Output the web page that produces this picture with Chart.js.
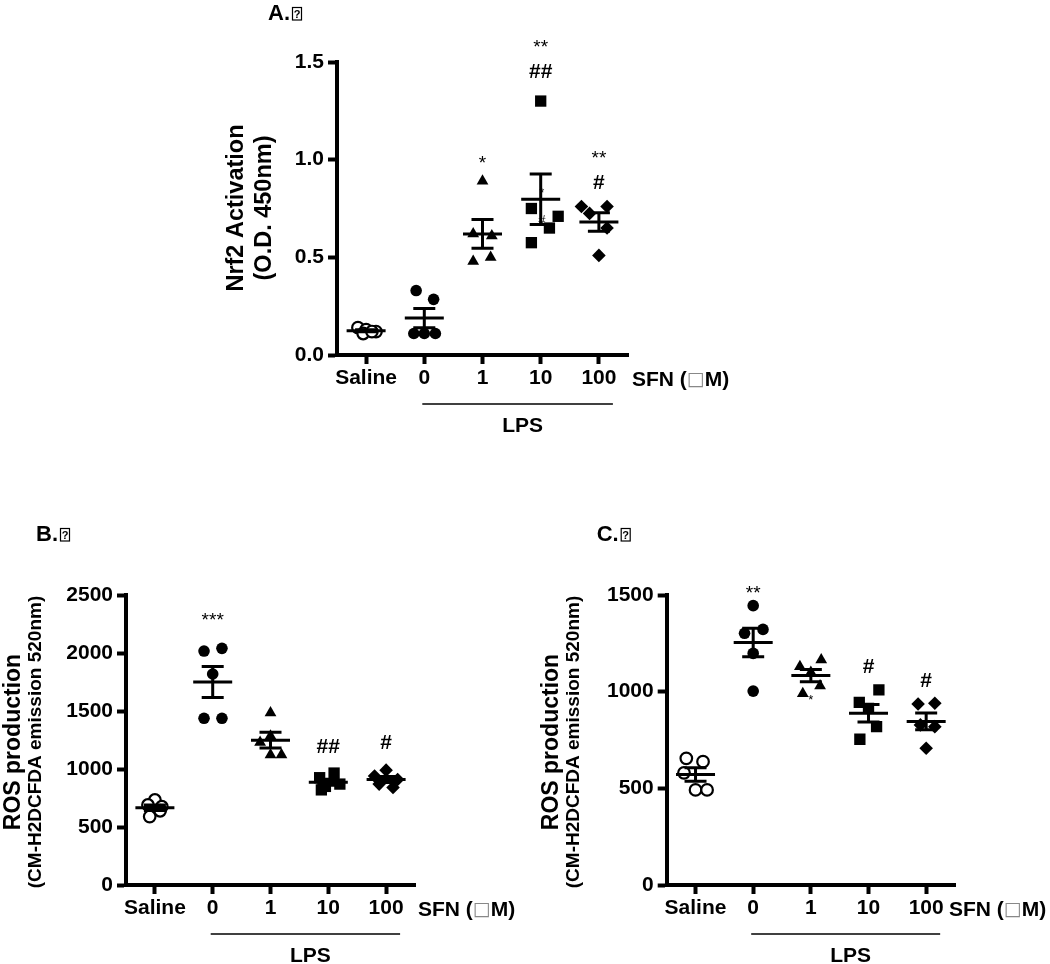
<!DOCTYPE html>
<html>
<head>
<meta charset="utf-8">
<title>Nrf2 activation and ROS production</title>
<script src="https://cdn.jsdelivr.net/npm/chart.js@4.4.1/dist/chart.umd.min.js"></script>
<style>
  body { margin: 0; background: #fff; }
  #wrap { position: relative; width: 1050px; height: 964px; overflow: hidden; }
  canvas { position: absolute; }
</style>
</head>
<body>
<div id="wrap">
  <canvas id="chartA" width="520" height="450" style="left:220px;top:0px"></canvas>
  <canvas id="chartB" width="520" height="464" style="left:0px;top:500px"></canvas>
  <canvas id="chartC" width="520" height="464" style="left:530px;top:500px"></canvas>
</div>
<script>
// x groups (SFN dose in uM, 0-100 are LPS treated)
const groups = ['Saline', '0', '1', '10', '100'];

// A. Nrf2 activation, O.D. 450nm (5 wells per group)
const nrf2Values = [
  [0.14, 0.13, 0.12, 0.11, 0.12],
  [0.33, 0.285, 0.11, 0.11, 0.11],
  [0.89, 0.62, 0.61, 0.48, 0.50],
  [1.30, 0.75, 0.71, 0.65, 0.575],
  [0.76, 0.76, 0.725, 0.65, 0.51]
];
const nrf2Jitter = [
  [-0.14, 0.0, 0.17, -0.05, 0.1],
  [-0.14, 0.16, -0.18, 0.0, 0.19],
  [0.0, -0.16, 0.16, -0.16, 0.14],
  [0.0, -0.16, 0.30, 0.15, -0.16],
  [-0.30, 0.14, -0.16, 0.14, 0.0]
];
const nrf2Ticks = [0, 0.5, 1.0, 1.5];

// B. ROS production (CM-H2DCFDA emission 520nm)
const rosBValues = [
  [733, 690, 675, 640, 590],
  [2017, 2040, 1819, 1437, 1437],
  [1485, 1230, 1285, 1122, 1122],
  [965, 925, 870, 850, 820],
  [990, 940, 910, 870, 840]
];
const rosBJitter = [
  [0.0, -0.12, 0.12, 0.09, -0.09],
  [-0.15, 0.16, 0.0, -0.15, 0.16],
  [0.0, -0.18, 0.0, 0.0, 0.19],
  [0.1, -0.15, 0.2, -0.05, -0.12],
  [0.0, -0.2, 0.2, -0.12, 0.12]
];
const rosBTicks = [0, 500, 1000, 1500, 2000, 2500];

// C. ROS production, second experiment
const rosCValues = [
  [655, 638, 580, 492, 492],
  [1445, 1302, 1322, 1198, 1003],
  [1130, 1165, 1100, 990, 1030],
  [945, 1009, 914, 819, 754],
  [936, 940, 828, 819, 707]
];
const rosCJitter = [
  [-0.16, 0.13, -0.2, 0.0, 0.2],
  [0.0, -0.15, 0.17, 0.0, 0.0],
  [-0.19, 0.18, 0.0, -0.14, 0.16],
  [-0.16, 0.18, 0.0, 0.14, -0.15],
  [-0.14, 0.15, -0.1, 0.15, 0.0]
];
const rosCTicks = [0, 500, 1000, 1500];

// significance marks: group, y (data units), text ('s' suffix = small stray mark)
const nrf2Marks = [
  [2, 1.0, '*'], [3, 1.595, '**'], [3, 1.447, '##'], [4, 1.028, '**'], [4, 0.879, '#'],
  [3.02, 0.844, '*s'], [3.02, 0.69, '#s']
];
const rosBMarks = [[1, 2313, '***'], [3, 1192, '##'], [4, 1221, '#']];
const rosCMarks = [[1, 1526, '**'], [3, 1129, '#'], [4, 1052, '#'], [2.0, 972, '*s']];

const FONT = "'Liberation Sans', Arial, sans-serif";
Chart.defaults.font.family = FONT;
Chart.defaults.font.size = 21;
Chart.defaults.font.weight = 'bold';
Chart.defaults.color = '#000';

const markerStyle = ['circle', 'circle', 'triangle', 'rect', 'rectRot'];
const markerRadius = [5.8, 5.8, 6.8, 8, 6.8];

const panelInfo = {
  chartA: {
    label: 'A.', labelAt: [48, 20],
    titles: ['Nrf2 Activation', '(O.D. 450nm)'], titleFonts: [23.5, 23.5], titleX: [16.7, 45], titleY: 208,
    sfnX: 412, values: nrf2Values, marks: nrf2Marks
  },
  chartB: {
    label: 'B.', labelAt: [36, 41],
    titles: ['ROS production', '(CM-H2DCFDA emission 520nm)'], titleFonts: [23, 19], titleX: [14, 36], titleY: 242,
    sfnX: 418, values: rosBValues, marks: rosBMarks
  },
  chartC: {
    label: 'C.', labelAt: [66.7, 41],
    titles: ['ROS production', '(CM-H2DCFDA emission 520nm)'], titleFonts: [23, 19], titleX: [21.7, 43.3], titleY: 242,
    sfnX: 419, values: rosCValues, marks: rosCMarks
  }
};

function mean(a) { return a.reduce((s, v) => s + v, 0) / a.length; }
function sem(a) {
  const m = mean(a);
  const ss = a.reduce((s, v) => s + (v - m) * (v - m), 0);
  return Math.sqrt(ss / (a.length - 1)) / Math.sqrt(a.length);
}

const decorPlugin = {
  id: 'decor',
  afterDatasetsDraw(chart) {
    const p = panelInfo[chart.canvas.id];
    const { ctx, scales: { x, y } } = chart;
    ctx.save();
    // mean +/- SEM
    ctx.strokeStyle = '#000';
    ctx.lineWidth = 3;
    p.values.forEach((vals, g) => {
      const m = mean(vals), s = sem(vals);
      const cx = x.getPixelForValue(g);
      const ym = y.getPixelForValue(m);
      const yt = y.getPixelForValue(m + s);
      const yb = y.getPixelForValue(m - s);
      ctx.beginPath();
      ctx.moveTo(cx - 19.5, ym); ctx.lineTo(cx + 19.5, ym);
      ctx.moveTo(cx, yt); ctx.lineTo(cx, yb);
      ctx.moveTo(cx - 11, yt); ctx.lineTo(cx + 11, yt);
      ctx.moveTo(cx - 11, yb); ctx.lineTo(cx + 11, yb);
      ctx.stroke();
    });
    // significance marks
    ctx.fillStyle = '#000';
    ctx.textAlign = 'center';
    ctx.textBaseline = 'middle';
    p.marks.forEach(([g, v, t]) => {
      const small = t.endsWith('s');
      const txt = small ? t.slice(0, -1) : t;
      const star = txt[0] === '*';
      const size = small ? 13 : (star ? 19 : 21);
      ctx.font = (star || small ? 'normal ' : 'bold ') + size + 'px ' + FONT;
      const off = star ? 0.22 * size : 0;
      ctx.fillText(txt, x.getPixelForValue(g), y.getPixelForValue(v) + off);
    });
    ctx.restore();
  },
  afterDraw(chart) {
    const p = panelInfo[chart.canvas.id];
    const { ctx, chartArea, scales: { x } } = chart;
    ctx.save();
    ctx.fillStyle = '#000';

    // y axis titles (two lines, rotated)
    ctx.textAlign = 'center';
    ctx.textBaseline = 'middle';
    p.titles.forEach((t, i) => {
      ctx.save();
      ctx.translate(p.titleX[i], p.titleY);
      ctx.rotate(-Math.PI / 2);
      ctx.font = 'bold ' + p.titleFonts[i] + 'px ' + FONT;
      ctx.fillText(t, 0, 0);
      ctx.restore();
    });

    // panel letter followed by the boxed "?" of a missing glyph
    ctx.textAlign = 'left';
    ctx.textBaseline = 'alphabetic';
    ctx.font = 'bold 22px ' + FONT;
    ctx.fillText(p.label, p.labelAt[0], p.labelAt[1]);
    const bx = p.labelAt[0] + ctx.measureText(p.label).width + 2;
    ctx.strokeStyle = '#000';
    ctx.lineWidth = 1.2;
    ctx.strokeRect(bx + 0.5, p.labelAt[1] - 12.5, 9, 12.5);
    ctx.font = 'bold 11px ' + FONT;
    ctx.textAlign = 'center';
    ctx.fillText('?', bx + 5, p.labelAt[1] - 2);

    // SFN (uM) label next to the x ticks
    const ty = chartArea.bottom + 25;
    ctx.textAlign = 'left';
    ctx.textBaseline = 'middle';
    ctx.font = 'bold 21px ' + FONT;
    ctx.fillText('SFN (', p.sfnX, ty);
    let cx = p.sfnX + ctx.measureText('SFN (').width;
    ctx.font = "normal 19px 'DejaVu Sans', sans-serif";
    ctx.fillStyle = '#888';
    ctx.fillText('\u25A1', cx, ty);
    cx += ctx.measureText('\u25A1').width;
    ctx.fillStyle = '#000';
    ctx.font = 'bold 21px ' + FONT;
    ctx.fillText('M)', cx, ty);

    // LPS bracket
    const x0 = x.getPixelForValue(1) - 2;
    const x1 = x.getPixelForValue(4) + 14;
    const ly = chartArea.bottom + 49;
    ctx.lineWidth = 1.5;
    ctx.beginPath();
    ctx.moveTo(x0, ly); ctx.lineTo(x1, ly);
    ctx.stroke();
    ctx.textAlign = 'center';
    ctx.fillText('LPS', (x0 + x1) / 2 + 5, ly + 22);
    ctx.restore();
  }
};

function makePanel(id, values, jitter, yTicks, yFmt, yWidth, xHeight, pad) {
  const datasets = values.map((vals, g) => ({
    data: vals.map((v, i) => ({ x: g + jitter[g][i], y: v })),
    pointStyle: markerStyle[g],
    pointRadius: markerRadius[g],
    pointHoverRadius: markerRadius[g],
    backgroundColor: g === 0 ? '#fff' : '#000',
    borderColor: '#000',
    borderWidth: g === 0 ? 2.2 : 0
  }));
  return new Chart(document.getElementById(id), {
    type: 'scatter',
    data: { datasets },
    options: {
      responsive: false,
      animation: false,
      layout: { padding: pad },
      plugins: { legend: { display: false }, tooltip: { enabled: false } },
      scales: {
        x: {
          type: 'linear', min: -0.5, max: 4.5,
          afterBuildTicks: s => { s.ticks = groups.map((_, i) => ({ value: i })); },
          afterFit: s => { s.height = xHeight; },
          ticks: { callback: v => groups[v], padding: 2, autoSkip: false, maxRotation: 0 },
          grid: { drawOnChartArea: false, tickLength: 9, tickWidth: 4, tickColor: '#000' },
          border: { color: '#000', width: 4 }
        },
        y: {
          min: yTicks[0], max: yTicks[yTicks.length - 1],
          afterBuildTicks: s => { s.ticks = yTicks.map(v => ({ value: v })); },
          afterFit: s => { s.width = yWidth; },
          ticks: { callback: yFmt, padding: 4, autoSkip: false },
          grid: { drawOnChartArea: false, tickLength: 9, tickWidth: 4, tickColor: '#000' },
          border: { color: '#000', width: 4 }
        }
      }
    },
    plugins: [decorPlugin]
  });
}

makePanel('chartA', nrf2Values, nrf2Jitter, nrf2Ticks, v => v.toFixed(1), 117, 95,
  { left: 0, top: 62, right: 112, bottom: 0 });
makePanel('chartB', rosBValues, rosBJitter, rosBTicks, v => String(v), 126, 79,
  { left: 0, top: 95, right: 105, bottom: 0 });
makePanel('chartC', rosCValues, rosCJitter, rosCTicks, v => String(v), 136.7, 79,
  { left: 0, top: 95, right: 95, bottom: 0 });
</script>
</body>
</html>
